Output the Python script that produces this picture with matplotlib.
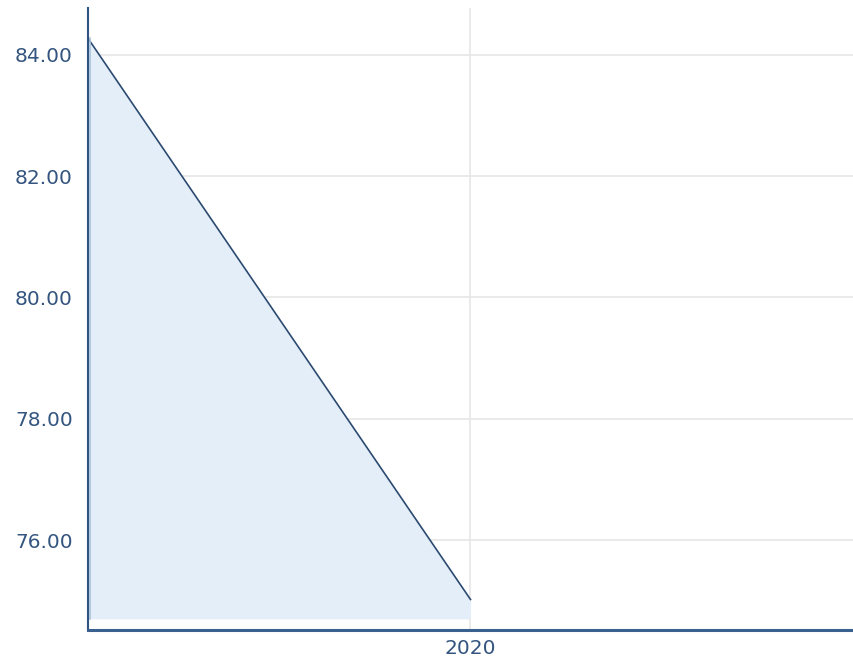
import matplotlib
matplotlib.use("Agg")
import matplotlib.pyplot as plt

# Series data
years = ["2019", "2020"]
values = [84.27, 75.02]
y_ticks = [76.0, 78.0, 80.0, 82.0, 84.0]
fill_base = 74.70

fig = plt.figure(figsize=(8.54, 6.59), dpi=100)
ax = fig.add_axes([88 / 854, 1 - 629.5 / 659, (853 - 88) / 854, (629.5 - 8) / 659])

x = list(range(len(years)))
ax.fill_between(x, values, fill_base, color="#e3eef9", linewidth=0, zorder=1)
ax.plot(x, values, color="#2c4a70", linewidth=1.2, zorder=3)

ax.set_xlim(0, 2)
ax.set_ylim(74.525, 84.77)
ax.set_xticks([1])
ax.set_xticklabels([years[1]])
ax.set_yticks(y_ticks)
ax.set_yticklabels([f"{v:.2f}" for v in y_ticks])

ax.grid(True, color="#e6e6e6", linewidth=1.2, zorder=0)
ax.set_axisbelow(True)

label_color = "#34557f"
ax.tick_params(axis="both", length=0, labelsize=14.5, colors=label_color)
ax.tick_params(axis="y", pad=11)
ax.tick_params(axis="x", pad=7)

for side in ("top", "right"):
    ax.spines[side].set_visible(False)
ax.spines["left"].set_color("#2f5480")
ax.spines["left"].set_linewidth(1.5)
ax.spines["bottom"].set_color("#3a6090")
ax.spines["bottom"].set_linewidth(2.2)

# lighter edge where the filled area meets the y axis
ax.plot([0.004, 0.004], [fill_base, values[0]], color="#a9c3dc", linewidth=1.2, zorder=4)

fig.savefig("out.png", dpi=100)
